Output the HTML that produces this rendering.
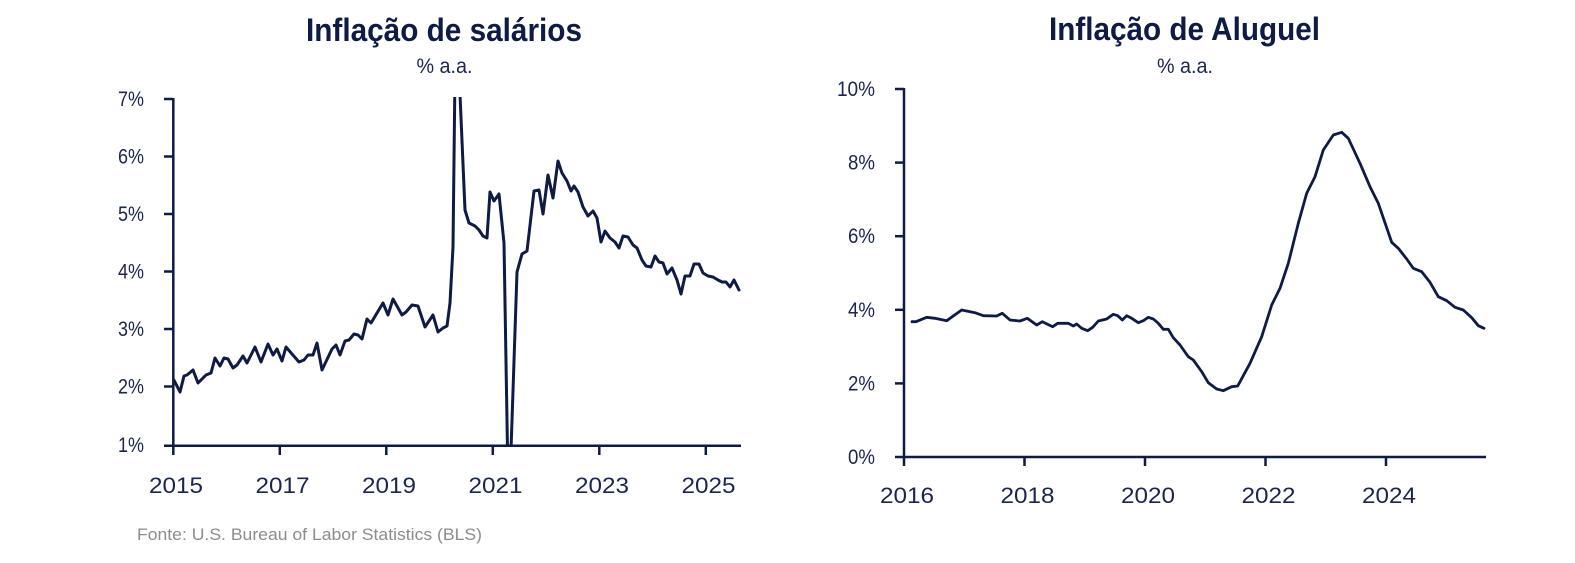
<!DOCTYPE html>
<html>
<head>
<meta charset="utf-8">
<style>
html,body{margin:0;padding:0;background:#fff;}
svg{display:block;}
</style>
</head>
<body>
<svg width="1575" height="563" viewBox="0 0 1575 563" xmlns="http://www.w3.org/2000/svg">
<defs>
<clipPath id="cl"><rect x="170" y="97" width="575" height="350"/></clipPath>
</defs>
<rect width="1575" height="563" fill="#fff"/>
<g font-family="'Liberation Sans', sans-serif" fill="#0d1b45">
<!-- titles -->
<text x="444" y="41" font-size="32" font-weight="bold" text-anchor="middle" textLength="276" lengthAdjust="spacingAndGlyphs">Inflação de salários</text>
<text x="444.5" y="73" font-size="21" text-anchor="middle" textLength="56" lengthAdjust="spacingAndGlyphs" fill="#1a2550">% a.a.</text>
<text x="1184.5" y="40" font-size="32" font-weight="bold" text-anchor="middle" textLength="271" lengthAdjust="spacingAndGlyphs">Inflação de Aluguel</text>
<text x="1185" y="73" font-size="21" text-anchor="middle" textLength="56" lengthAdjust="spacingAndGlyphs" fill="#1a2550">% a.a.</text>

<!-- left y labels -->
<g font-size="21" text-anchor="end" fill="#1a2550">
<text x="144" y="106" textLength="26" lengthAdjust="spacingAndGlyphs">7%</text>
<text x="144" y="163.5" textLength="26" lengthAdjust="spacingAndGlyphs">6%</text>
<text x="144" y="221" textLength="26" lengthAdjust="spacingAndGlyphs">5%</text>
<text x="144" y="278.5" textLength="26" lengthAdjust="spacingAndGlyphs">4%</text>
<text x="144" y="336" textLength="26" lengthAdjust="spacingAndGlyphs">3%</text>
<text x="144" y="393.5" textLength="26" lengthAdjust="spacingAndGlyphs">2%</text>
<text x="144" y="452" textLength="26" lengthAdjust="spacingAndGlyphs">1%</text>
</g>
<!-- left x labels -->
<g font-size="22" text-anchor="middle" fill="#1a2550">
<text x="176" y="493" textLength="54" lengthAdjust="spacingAndGlyphs">2015</text>
<text x="282.5" y="493" textLength="54" lengthAdjust="spacingAndGlyphs">2017</text>
<text x="389" y="493" textLength="54" lengthAdjust="spacingAndGlyphs">2019</text>
<text x="495.5" y="493" textLength="54" lengthAdjust="spacingAndGlyphs">2021</text>
<text x="602" y="493" textLength="54" lengthAdjust="spacingAndGlyphs">2023</text>
<text x="708.5" y="493" textLength="54" lengthAdjust="spacingAndGlyphs">2025</text>
</g>

<!-- right y labels -->
<g font-size="21" text-anchor="end" fill="#1a2550">
<text x="875" y="96" textLength="38" lengthAdjust="spacingAndGlyphs">10%</text>
<text x="875" y="169.6" textLength="27" lengthAdjust="spacingAndGlyphs">8%</text>
<text x="875" y="243.2" textLength="27" lengthAdjust="spacingAndGlyphs">6%</text>
<text x="875" y="316.8" textLength="27" lengthAdjust="spacingAndGlyphs">4%</text>
<text x="875" y="390.4" textLength="27" lengthAdjust="spacingAndGlyphs">2%</text>
<text x="875" y="464" textLength="27" lengthAdjust="spacingAndGlyphs">0%</text>
</g>
<!-- right x labels -->
<g font-size="22" text-anchor="middle" fill="#1a2550">
<text x="907" y="503" textLength="54" lengthAdjust="spacingAndGlyphs">2016</text>
<text x="1027.5" y="503" textLength="54" lengthAdjust="spacingAndGlyphs">2018</text>
<text x="1148" y="503" textLength="54" lengthAdjust="spacingAndGlyphs">2020</text>
<text x="1268.5" y="503" textLength="54" lengthAdjust="spacingAndGlyphs">2022</text>
<text x="1389" y="503" textLength="54" lengthAdjust="spacingAndGlyphs">2024</text>
</g>

<!-- footer -->
<text x="137" y="540" font-size="17" fill="#8c8c8c" textLength="345" lengthAdjust="spacingAndGlyphs">Fonte: U.S. Bureau of Labor Statistics (BLS)</text>
</g>

<!-- left axes -->
<g stroke="#0d1b45" stroke-width="2.5" fill="none">
<line x1="173.3" y1="98" x2="173.3" y2="455"/>
<line x1="164" y1="445.7" x2="741" y2="445.7"/>
<line x1="164" y1="99" x2="173" y2="99"/>
<line x1="164" y1="156.5" x2="173" y2="156.5"/>
<line x1="164" y1="214" x2="173" y2="214"/>
<line x1="164" y1="271.5" x2="173" y2="271.5"/>
<line x1="164" y1="329" x2="173" y2="329"/>
<line x1="164" y1="386.5" x2="173" y2="386.5"/>
<line x1="279.8" y1="445" x2="279.8" y2="455"/>
<line x1="386.3" y1="445" x2="386.3" y2="455"/>
<line x1="492.8" y1="445" x2="492.8" y2="455"/>
<line x1="599.3" y1="445" x2="599.3" y2="455"/>
<line x1="705.8" y1="445" x2="705.8" y2="455"/>
</g>

<!-- right axes -->
<g stroke="#0d1b45" stroke-width="2.5" fill="none">
<line x1="904" y1="88" x2="904" y2="466"/>
<line x1="895" y1="457" x2="1486" y2="457"/>
<line x1="895" y1="89" x2="904" y2="89"/>
<line x1="895" y1="162.6" x2="904" y2="162.6"/>
<line x1="895" y1="236.2" x2="904" y2="236.2"/>
<line x1="895" y1="309.8" x2="904" y2="309.8"/>
<line x1="895" y1="383.4" x2="904" y2="383.4"/>
<line x1="1024.5" y1="456" x2="1024.5" y2="466"/>
<line x1="1145" y1="456" x2="1145" y2="466"/>
<line x1="1265.5" y1="456" x2="1265.5" y2="466"/>
<line x1="1386" y1="456" x2="1386" y2="466"/>
</g>

<!-- left series -->
<polyline clip-path="url(#cl)" fill="none" stroke="#0d1b45" stroke-width="3" stroke-linejoin="round" stroke-linecap="round"
points="173.9,380 180,392 184,376 187,375 193,370 198,383 206,375 211,373 215,358 220,366 224,358 228,359 233,368 237,365 243,356 247,363 255,347 261,362 268,344 273,355 277,349 282,361 286,347 292,354 299,362 304,360 308,355 313,355 317,343 322,370 332,349 336,345 340,355 345,341 349,340 354,334 358,335 362,339 367,319 371,323 377,313 383,303 388,315 393,299 402,315 406,312 412,305 418,306 425,327 433,315 438,332 443,328 447,326 450,303 453,247 455.5,30 458.5,60 465,210 469,223 475,226 479,230 483,236 487,238 490,192 494,201 499,194 504,243 508,480 510,480 517,272 522,254 527,251 534,191 539,190 543,214 548,175 553,198 558,161 562,173 567,181 571,191 574,186 578,192 583,207 588,216 593,211 597,218 601,242 605,231 610,238 615,242 619,248 623,236 628,237 633,245 637,248 642,260 646,266 651,267 655,256 659,262 663,263 667,274 672,268 677,280 681,294 685,276 690,276 694,264 699,264 703,273 708,276 713,277 718,280 722,282 726,282 730,287 734,280 739,290"/>

<!-- right series -->
<polyline fill="none" stroke="#0d1b45" stroke-width="2.8" stroke-linejoin="round" stroke-linecap="round"
points="912,321.7 916,321.7 926.7,317.3 935,318.3 946.7,320.7 961.7,310 975,312.7 983.3,315.7 996.7,316 1002.3,313.3 1010,320 1020,321 1027.3,318.3 1036.7,325 1042.3,321.7 1052.7,326.7 1057.7,323.3 1068.3,323.3 1073.3,326 1076.7,324 1081.7,328.3 1087.7,330.7 1092.7,327.3 1098.3,321 1106.7,319 1113.3,314.3 1117.7,315.7 1122.3,320 1126.7,315.7 1131.7,318.3 1138.3,322.7 1143.3,320.7 1148.3,317.3 1153.3,319 1158.3,323.3 1163.3,329.3 1168.3,329.3 1173.3,337.7 1180,345 1188.3,356.7 1193.3,360 1201.7,371.7 1208.3,382.7 1216.7,389 1223.3,390.7 1231.7,386.7 1237.7,386 1250,363.3 1261.7,336.7 1271.7,305 1280,288.3 1288.3,263.3 1298.3,223.3 1306.7,193.3 1315,176.7 1323.3,150 1333.3,135 1341.7,132.3 1348.3,138.3 1360,163.3 1370,186.7 1378.3,203.3 1391.7,242.3 1398.3,248.3 1406.7,259 1413.3,268.3 1421.7,271.7 1430,282.3 1438.3,296.7 1446.7,300.7 1455,307.3 1463.3,310 1471.7,317.7 1478.3,325.7 1484,328.3"/>
</svg>
</body>
</html>
